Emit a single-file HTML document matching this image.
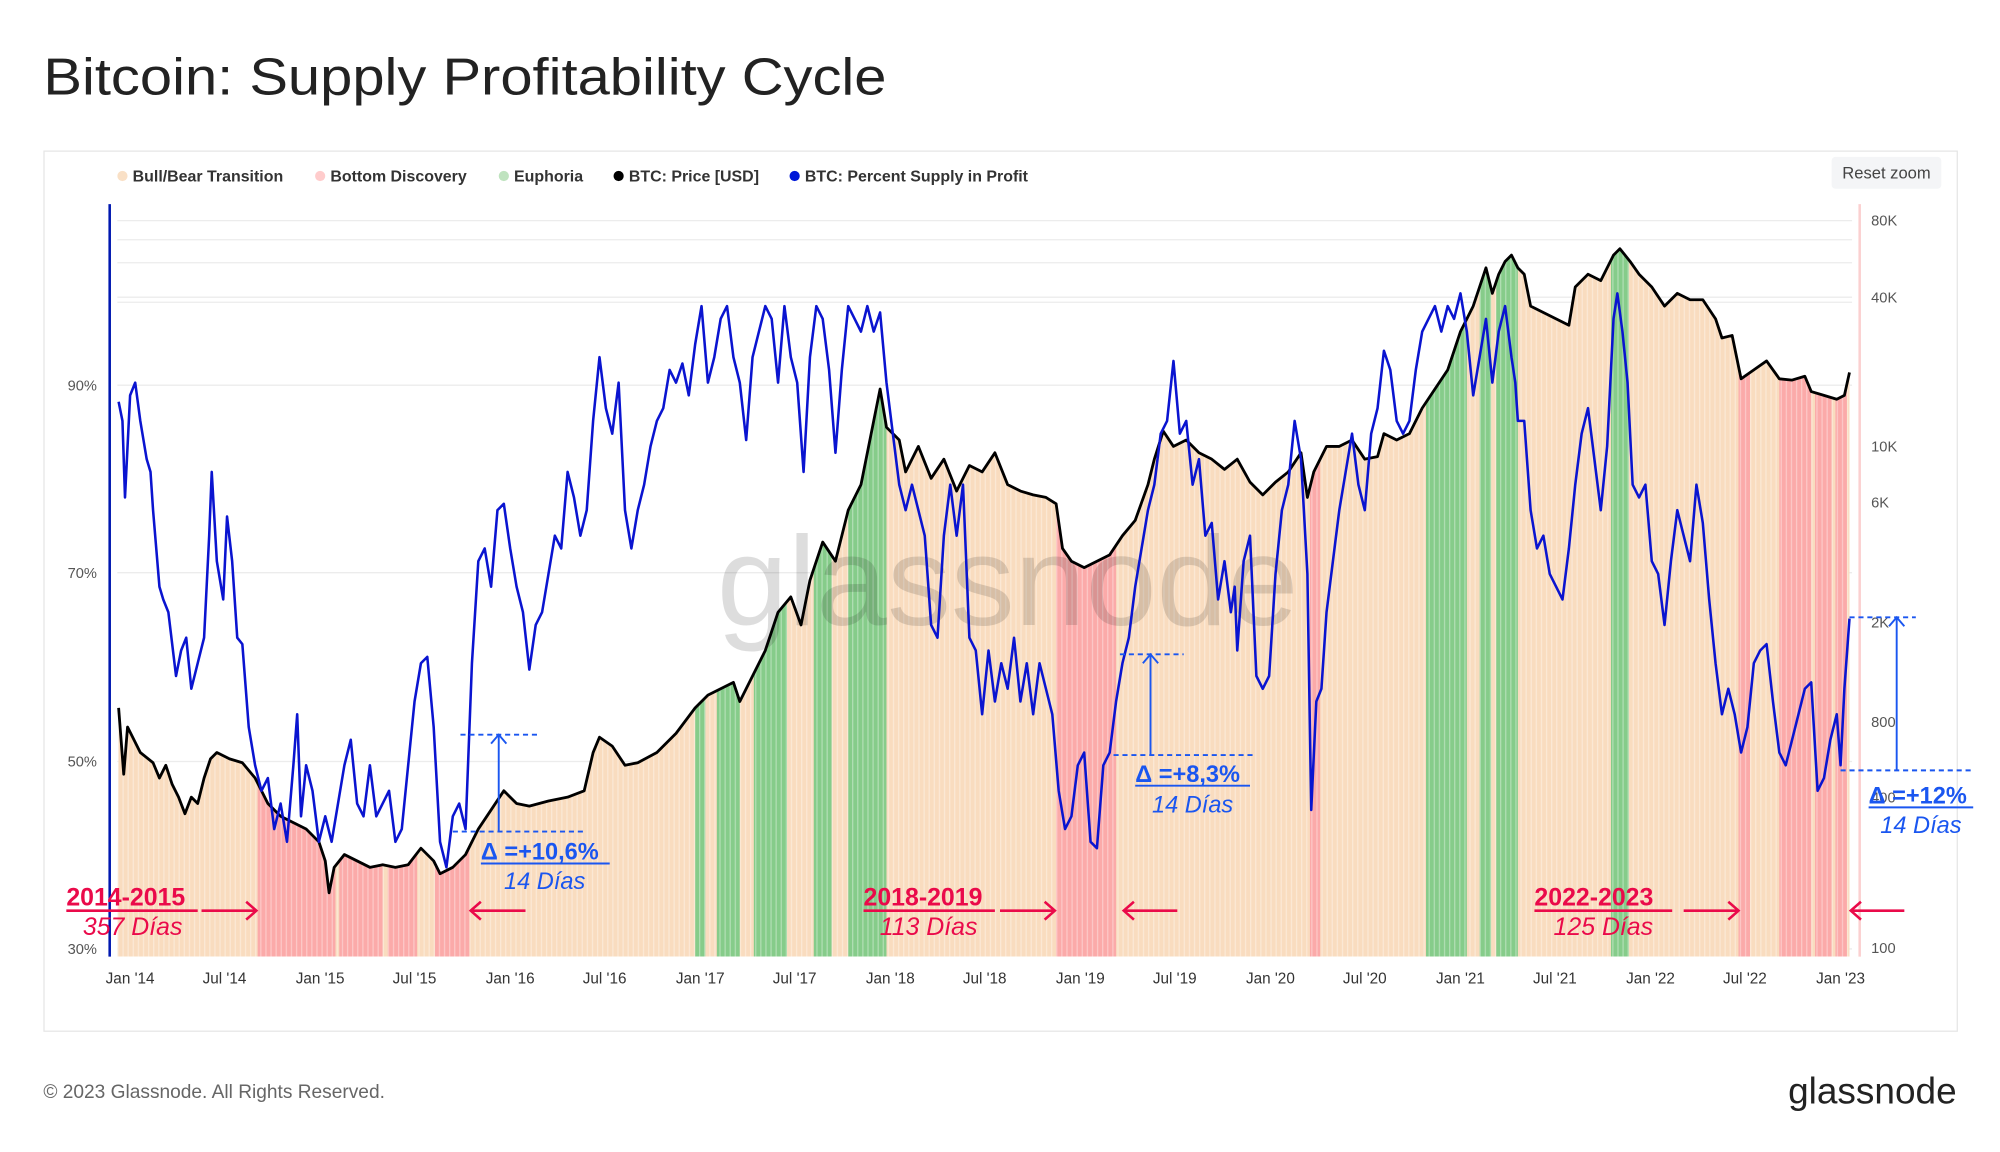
<!DOCTYPE html>
<html><head><meta charset="utf-8"><style>
html,body{margin:0;padding:0;background:#fff;}
svg{display:block;font-family:"Liberation Sans",sans-serif;}
</style></head><body>
<svg width="2000" height="1152" viewBox="0 0 1568 903.2" preserveAspectRatio="none" xmlns="http://www.w3.org/2000/svg">
<defs>
<pattern id="st" width="4" height="10" patternUnits="userSpaceOnUse"><rect x="0" y="0" width="1" height="10" fill="#fff" opacity="0.35"/></pattern>
<clipPath id="under"><path d="M93,555 L97,607 L100,570 L105,580 L110,590 L120,598 L125,610 L130,600 L135,615 L140,625 L145,638 L150,625 L155,630 L160,610 L165,595 L170,590 L180,595 L190,598 L200,610 L205,620 L210,630 L215,635 L220,640 L230,645 L240,650 L250,660 L255,675 L258,700 L262,680 L270,670 L280,675 L290,680 L300,678 L310,680 L320,678 L330,665 L340,675 L345,685 L355,680 L365,670 L375,650 L385,635 L395,620 L405,630 L415,632 L430,628 L445,625 L458,620 L465,590 L470,578 L480,585 L490,600 L500,598 L515,590 L530,575 L545,555 L555,545 L565,540 L575,535 L580,550 L590,530 L600,510 L610,480 L620,468 L628,490 L635,455 L645,425 L655,440 L665,400 L675,380 L685,330 L690,305 L695,335 L700,340 L705,345 L710,370 L720,350 L730,375 L740,360 L750,385 L760,365 L770,370 L780,355 L790,380 L800,385 L810,388 L820,390 L828,395 L833,430 L840,440 L850,445 L860,440 L870,435 L880,420 L890,408 L900,380 L905,360 L912,338 L920,350 L930,345 L940,355 L950,360 L960,368 L970,360 L980,378 L990,388 L1000,378 L1010,370 L1020,355 L1025,390 L1030,370 L1040,350 L1050,350 L1060,345 L1070,360 L1080,358 L1085,340 L1095,345 L1105,340 L1115,320 L1125,305 L1135,290 L1145,260 L1150,250 L1155,240 L1160,225 L1165,210 L1170,230 L1175,215 L1180,205 L1185,200 L1190,210 L1195,215 L1200,240 L1210,245 L1220,250 L1230,255 L1235,225 L1245,215 L1255,220 L1265,200 L1270,195 L1278,205 L1285,215 L1295,225 L1305,240 L1315,230 L1325,235 L1335,235 L1345,250 L1350,265 L1358,263 L1365,297 L1375,290 L1385,283 L1395,297 L1405,298 L1415,295 L1420,307 L1430,310 L1440,313 L1446,310 L1450,292 L1450,750 L92,750 Z"/></clipPath>
</defs>
<text x="34" y="74" font-size="41" fill="#222" textLength="661" lengthAdjust="spacingAndGlyphs">Bitcoin: Supply Profitability Cycle</text>
<rect x="34.5" y="118.5" width="1500" height="690" fill="#fff" stroke="#e6e6e6"/>
<g font-size="12.5" fill="#333" font-weight="bold">
<circle cx="96" cy="138" r="4" fill="#f9e0c6"/><text x="104" y="142.5">Bull/Bear Transition</text>
<circle cx="251" cy="138" r="4" fill="#fcc"/><text x="259" y="142.5">Bottom Discovery</text>
<circle cx="395" cy="138" r="4" fill="#bfe3bf"/><text x="403" y="142.5">Euphoria</text>
<circle cx="485" cy="138" r="4" fill="#000"/><text x="493" y="142.5">BTC: Price [USD]</text>
<circle cx="623" cy="138" r="4" fill="#0018d8"/><text x="631" y="142.5">BTC: Percent Supply in Profit</text>
</g>
<rect x="1436" y="123" width="86" height="25" rx="3" fill="#f4f5f7"/>
<text x="1479" y="140" font-size="13" fill="#444" text-anchor="middle">Reset zoom</text>
<g stroke="#ececec" stroke-width="1">
<line x1="92" y1="173" x2="1452" y2="173"/><line x1="92" y1="188" x2="1452" y2="188"/><line x1="92" y1="206" x2="1452" y2="206"/><line x1="92" y1="233" x2="1452" y2="233"/><line x1="92" y1="237" x2="1452" y2="237"/>
<line x1="92" y1="302" x2="1452" y2="302"/><line x1="92" y1="449" x2="1452" y2="449"/><line x1="92" y1="597" x2="1452" y2="597"/><line x1="92" y1="744" x2="1452" y2="744"/>
</g>
<g clip-path="url(#under)">
<rect x="92" y="160" width="1358" height="590" fill="#f9dcbf"/>
<g fill="#fbaaa9">
<rect x="202" y="160" width="125" height="590"/><rect x="341" y="160" width="27" height="590"/>
<rect x="828" y="160" width="47" height="590"/><rect x="1027" y="160" width="8" height="590"/>
<rect x="1363" y="160" width="9" height="590"/><rect x="1395" y="160" width="53" height="590"/>
</g>
<g fill="#f9dcbf"><rect x="263" y="160" width="3" height="590"/><rect x="300" y="160" width="4" height="590"/><rect x="1420" y="160" width="3" height="590"/><rect x="1436" y="160" width="3" height="590"/></g>
<g fill="#86cc8a">
<rect x="545" y="160" width="8" height="590"/><rect x="562" y="160" width="18" height="590"/><rect x="591" y="160" width="26" height="590"/><rect x="638" y="160" width="14" height="590"/><rect x="665" y="160" width="30" height="590"/>
<rect x="1118" y="160" width="32" height="590"/><rect x="1160" y="160" width="9" height="590"/><rect x="1173" y="160" width="17" height="590"/><rect x="1263" y="160" width="14" height="590"/>
</g>
<rect x="92" y="160" width="1358" height="590" fill="url(#st)"/>
</g>
<line x1="86" y1="160" x2="86" y2="750" stroke="#0018b0" stroke-width="2"/>
<line x1="1458" y1="160" x2="1458" y2="750" stroke="#fbd0d0" stroke-width="2"/>
<text x="790" y="490" font-size="100" fill="#000" opacity="0.13" text-anchor="middle">glassnode</text>
<g font-size="11.5" fill="#555" text-anchor="end">
<text x="76" y="306">90%</text><text x="76" y="453">70%</text><text x="76" y="601">50%</text><text x="76" y="748">30%</text>
</g>
<g font-size="11.5" fill="#555">
<text x="1467" y="177">80K</text><text x="1467" y="237">40K</text><text x="1467" y="354">10K</text><text x="1467" y="398">6K</text><text x="1467" y="492">2K</text><text x="1467" y="570">800</text><text x="1467" y="629">400</text><text x="1467" y="747">100</text>
</g>
<g font-size="12" fill="#333" text-anchor="middle">
<text x="102" y="771">Jan '14</text><text x="176" y="771">Jul '14</text><text x="251" y="771">Jan '15</text><text x="325" y="771">Jul '15</text><text x="400" y="771">Jan '16</text><text x="474" y="771">Jul '16</text><text x="549" y="771">Jan '17</text><text x="623" y="771">Jul '17</text><text x="698" y="771">Jan '18</text><text x="772" y="771">Jul '18</text><text x="847" y="771">Jan '19</text><text x="921" y="771">Jul '19</text><text x="996" y="771">Jan '20</text><text x="1070" y="771">Jul '20</text><text x="1145" y="771">Jan '21</text><text x="1219" y="771">Jul '21</text><text x="1294" y="771">Jan '22</text><text x="1368" y="771">Jul '22</text><text x="1443" y="771">Jan '23</text>
</g>
<path d="M93,555 L97,607 L100,570 L105,580 L110,590 L120,598 L125,610 L130,600 L135,615 L140,625 L145,638 L150,625 L155,630 L160,610 L165,595 L170,590 L180,595 L190,598 L200,610 L205,620 L210,630 L215,635 L220,640 L230,645 L240,650 L250,660 L255,675 L258,700 L262,680 L270,670 L280,675 L290,680 L300,678 L310,680 L320,678 L330,665 L340,675 L345,685 L355,680 L365,670 L375,650 L385,635 L395,620 L405,630 L415,632 L430,628 L445,625 L458,620 L465,590 L470,578 L480,585 L490,600 L500,598 L515,590 L530,575 L545,555 L555,545 L565,540 L575,535 L580,550 L590,530 L600,510 L610,480 L620,468 L628,490 L635,455 L645,425 L655,440 L665,400 L675,380 L685,330 L690,305 L695,335 L700,340 L705,345 L710,370 L720,350 L730,375 L740,360 L750,385 L760,365 L770,370 L780,355 L790,380 L800,385 L810,388 L820,390 L828,395 L833,430 L840,440 L850,445 L860,440 L870,435 L880,420 L890,408 L900,380 L905,360 L912,338 L920,350 L930,345 L940,355 L950,360 L960,368 L970,360 L980,378 L990,388 L1000,378 L1010,370 L1020,355 L1025,390 L1030,370 L1040,350 L1050,350 L1060,345 L1070,360 L1080,358 L1085,340 L1095,345 L1105,340 L1115,320 L1125,305 L1135,290 L1145,260 L1150,250 L1155,240 L1160,225 L1165,210 L1170,230 L1175,215 L1180,205 L1185,200 L1190,210 L1195,215 L1200,240 L1210,245 L1220,250 L1230,255 L1235,225 L1245,215 L1255,220 L1265,200 L1270,195 L1278,205 L1285,215 L1295,225 L1305,240 L1315,230 L1325,235 L1335,235 L1345,250 L1350,265 L1358,263 L1365,297 L1375,290 L1385,283 L1395,297 L1405,298 L1415,295 L1420,307 L1430,310 L1440,313 L1446,310 L1450,292" fill="none" stroke="#000" stroke-width="2.2" stroke-linejoin="round"/>
<path d="M93,315 L96,330 L98,390 L102,310 L106,300 L110,330 L115,360 L118,370 L120,400 L125,460 L128,470 L132,480 L138,530 L142,510 L146,500 L150,540 L155,520 L160,500 L164,420 L166,370 L170,440 L175,470 L178,405 L182,440 L186,500 L190,505 L195,570 L200,600 L205,620 L210,610 L215,650 L220,630 L225,660 L230,600 L233,560 L236,640 L240,600 L245,620 L250,660 L255,640 L260,660 L265,630 L270,600 L275,580 L280,630 L285,640 L290,600 L295,640 L300,630 L305,620 L310,660 L315,650 L320,600 L325,550 L330,520 L335,515 L340,570 L345,660 L350,680 L355,640 L360,630 L365,650 L370,520 L375,440 L380,430 L385,460 L390,400 L395,395 L400,430 L405,460 L410,480 L415,525 L420,490 L425,480 L430,450 L435,420 L440,430 L445,370 L450,390 L455,420 L460,400 L465,330 L470,280 L475,320 L480,340 L485,300 L490,400 L495,430 L500,400 L505,380 L510,350 L515,330 L520,320 L525,290 L530,300 L535,285 L540,310 L545,270 L550,240 L555,300 L560,280 L565,250 L570,240 L575,280 L580,300 L585,345 L590,280 L595,260 L600,240 L605,250 L610,300 L615,240 L620,280 L625,300 L630,370 L635,280 L640,240 L645,250 L650,290 L655,355 L660,290 L665,240 L670,250 L675,260 L680,240 L685,260 L690,245 L695,300 L700,340 L705,380 L710,400 L715,380 L720,400 L725,420 L730,490 L735,500 L740,420 L745,380 L750,420 L755,380 L760,500 L765,510 L770,560 L775,510 L780,550 L785,520 L790,540 L795,500 L800,550 L805,520 L810,560 L815,520 L820,540 L825,560 L830,620 L835,650 L840,640 L845,600 L850,590 L855,660 L860,665 L865,600 L870,590 L875,550 L880,520 L885,500 L890,460 L895,430 L900,400 L905,380 L910,340 L915,330 L920,283 L925,340 L930,330 L935,380 L940,360 L945,420 L950,410 L955,470 L960,440 L965,480 L968,460 L970,510 L975,440 L980,420 L985,530 L990,540 L995,530 L1000,450 L1005,400 L1010,380 L1015,330 L1020,360 L1025,450 L1028,635 L1032,550 L1036,540 L1040,480 L1045,440 L1050,400 L1055,370 L1060,340 L1065,380 L1070,400 L1075,340 L1080,320 L1085,275 L1090,290 L1095,330 L1100,340 L1105,330 L1110,290 L1115,260 L1120,250 L1125,240 L1130,260 L1135,240 L1140,250 L1145,230 L1150,260 L1155,310 L1160,280 L1165,250 L1170,300 L1175,260 L1180,240 L1185,280 L1188,300 L1190,330 L1195,330 L1200,400 L1205,430 L1210,420 L1215,450 L1220,460 L1225,470 L1230,430 L1235,380 L1240,340 L1245,320 L1250,360 L1255,400 L1260,350 L1265,250 L1268,230 L1272,260 L1276,300 L1280,380 L1285,390 L1290,380 L1295,440 L1300,450 L1305,490 L1310,440 L1315,400 L1320,420 L1325,440 L1330,380 L1335,410 L1340,470 L1345,520 L1350,560 L1355,540 L1360,560 L1365,590 L1370,570 L1375,520 L1380,510 L1385,505 L1390,550 L1395,590 L1400,600 L1405,580 L1410,560 L1415,540 L1420,535 L1425,620 L1430,610 L1435,580 L1440,560 L1443,600 L1446,540 L1450,485" fill="none" stroke="#0a14d0" stroke-width="2" stroke-linejoin="round"/>
<g stroke="#1a56f0" stroke-width="1.5" fill="none">
<line x1="361" y1="576" x2="423" y2="576" stroke-dasharray="4,3"/><line x1="355" y1="652" x2="460" y2="652" stroke-dasharray="4,3"/>
<line x1="391" y1="652" x2="391" y2="577"/><polyline points="385,583 391,576 397,583"/>
<line x1="878" y1="513" x2="928" y2="513" stroke-dasharray="4,3"/><line x1="873" y1="592" x2="982" y2="592" stroke-dasharray="4,3"/>
<line x1="902" y1="592" x2="902" y2="514"/><polyline points="896,520 902,513 908,520"/>
<line x1="1450" y1="484" x2="1502" y2="484" stroke-dasharray="4,3"/><line x1="1443" y1="604" x2="1548" y2="604" stroke-dasharray="4,3"/>
<line x1="1487" y1="604" x2="1487" y2="485"/><polyline points="1481,491 1487,484 1493,491"/>
<line x1="377" y1="677" x2="478" y2="677"/><line x1="890" y1="616" x2="980" y2="616"/><line x1="1465" y1="633" x2="1547" y2="633"/>
</g>
<g fill="#1a56f0" font-size="18.5">
<text x="377" y="674" font-weight="bold">Δ =+10,6%</text><text x="427" y="697" font-style="italic" text-anchor="middle">14 Días</text>
<text x="890" y="613" font-weight="bold">Δ =+8,3%</text><text x="935" y="637" font-style="italic" text-anchor="middle">14 Días</text>
<text x="1465" y="630" font-weight="bold">Δ =+12%</text><text x="1506" y="653" font-style="italic" text-anchor="middle">14 Días</text>
</g>
<g fill="#ea0a4a" font-size="19.5">
<text x="52" y="710" font-weight="bold">2014-2015</text><text x="104" y="733" font-style="italic" text-anchor="middle">357 Días</text>
<text x="677" y="710" font-weight="bold">2018-2019</text><text x="728" y="733" font-style="italic" text-anchor="middle">113 Días</text>
<text x="1203" y="710" font-weight="bold">2022-2023</text><text x="1257" y="733" font-style="italic" text-anchor="middle">125 Días</text>
</g>
<g stroke="#ea0a4a" stroke-width="2" fill="none">
<line x1="52" y1="714" x2="155" y2="714"/><line x1="677" y1="714" x2="780" y2="714"/><line x1="1203" y1="714" x2="1311" y2="714"/>
<line x1="158" y1="714" x2="201" y2="714"/><polyline points="193,707 201,714 193,721"/>
<line x1="369" y1="714" x2="412" y2="714"/><polyline points="377,707 369,714 377,721"/>
<line x1="784" y1="714" x2="827" y2="714"/><polyline points="819,707 827,714 819,721"/>
<line x1="881" y1="714" x2="923" y2="714"/><polyline points="889,707 881,714 889,721"/>
<line x1="1320" y1="714" x2="1363" y2="714"/><polyline points="1355,707 1363,714 1355,721"/>
<line x1="1451" y1="714" x2="1493" y2="714"/><polyline points="1459,707 1451,714 1459,721"/>
</g>
<text x="34" y="861" font-size="15" fill="#666">© 2023 Glassnode. All Rights Reserved.</text>
<text x="1534" y="865" font-size="29" fill="#222" text-anchor="end">glassnode</text>
</svg>
</body></html>
